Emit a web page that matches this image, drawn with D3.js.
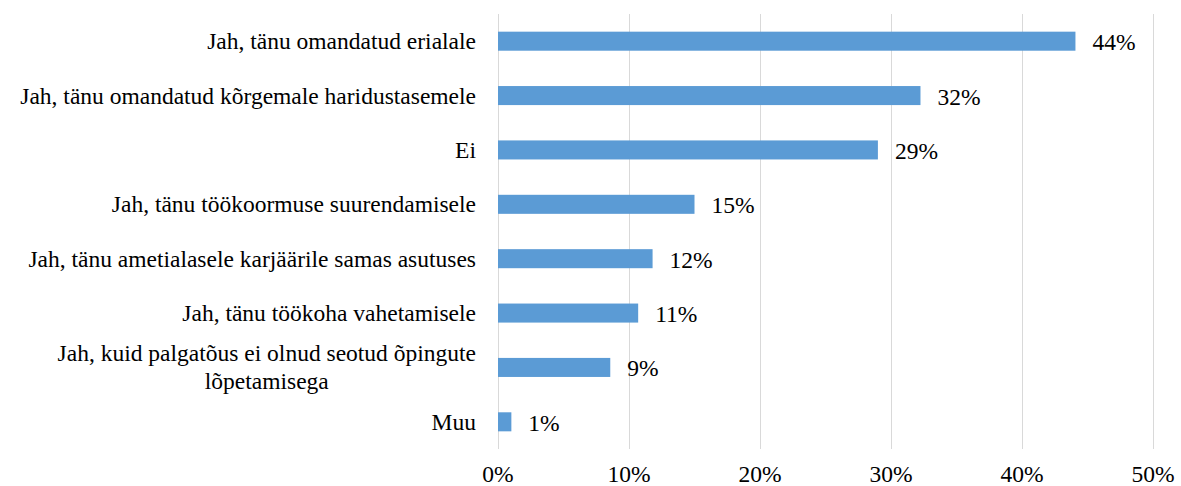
<!DOCTYPE html>
<html>
<head>
<meta charset="utf-8">
<script src="https://cdn.jsdelivr.net/npm/d3@7"></script>
</head>
<body style="margin:0">
<svg id="chart"></svg>
<script>
const categories = [
  ["Jah, tänu omandatud erialale"],
  ["Jah, tänu omandatud kõrgemale haridustasemele"],
  ["Ei"],
  ["Jah, tänu töökoormuse suurendamisele"],
  ["Jah, tänu ametialasele karjäärile samas asutuses"],
  ["Jah, tänu töökoha vahetamisele"],
  ["Jah, kuid palgatõus ei olnud seotud õpingute", "lõpetamisega"],
  ["Muu"]
];
const values = [0.4408, 0.3225, 0.2900, 0.1500, 0.1180, 0.1070, 0.0857, 0.0102];
const valueLabels = ["44%", "32%", "29%", "15%", "12%", "11%", "9%", "1%"];
const xTicks = [0, 0.1, 0.2, 0.3, 0.4, 0.5];

const width = 1181, height = 486;
const margin = { top: 14, right: 28, bottom: 37, left: 498 };

const svg = d3.select("#chart").attr("width", width).attr("height", height);

const x = d3.scaleLinear().domain([0, 0.5]).range([margin.left, width - margin.right]);
const y = d3.scaleBand()
  .domain(d3.range(categories.length))
  .range([margin.top, height - margin.bottom])
  .paddingInner(0.65).paddingOuter(0.325);

const txt = sel => sel.attr("font-family", "Liberation Serif").attr("font-size", 23.5);

// gridlines
svg.append("g")
  .selectAll("line")
  .data(xTicks)
  .join("line")
  .attr("x1", d => x(d) + 0.5).attr("x2", d => x(d) + 0.5)
  .attr("y1", margin.top).attr("y2", height - margin.bottom)
  .attr("stroke", "#d9d9d9").attr("stroke-width", 1);

// x tick labels
svg.append("g")
  .selectAll("text")
  .data(xTicks)
  .join("text")
  .call(txt)
  .attr("x", d => x(d))
  .attr("y", 482)
  .attr("text-anchor", "middle")
  .text(d3.format(".0%"));

// bars
svg.append("g")
  .selectAll("rect")
  .data(values)
  .join("rect")
  .attr("x", x(0))
  .attr("y", (d, i) => y(i))
  .attr("width", d => x(d) - x(0))
  .attr("height", y.bandwidth())
  .attr("fill", "#5b9bd5");

// value labels
svg.append("g")
  .selectAll("text")
  .data(values)
  .join("text")
  .call(txt)
  .attr("x", d => x(d) + 17)
  .attr("y", (d, i) => y(i) + y.bandwidth() / 2 + 9)
  .text((d, i) => valueLabels[i]);

// category labels; wrapped ones are centred on their longest line, like Excel
const lh = 28;
const labelRight = 476;
svg.append("g")
  .selectAll("text")
  .data(categories)
  .join("text")
  .call(txt)
  .each(function(lines, i) {
    const t = d3.select(this);
    const cy = y(i) + y.bandwidth() / 2 + 8 - (lines.length - 1) * lh / 2;
    if (lines.length === 1) {
      t.attr("text-anchor", "end").attr("x", labelRight).attr("y", cy).text(lines[0]);
      return;
    }
    t.attr("text-anchor", "middle");
    const spans = lines.map((ln, j) => t.append("tspan").attr("y", cy + j * lh).text(ln));
    const w = d3.max(spans, s => s.node().getComputedTextLength());
    spans.forEach(s => s.attr("x", labelRight - w / 2));
  });
</script>
</body>
</html>
